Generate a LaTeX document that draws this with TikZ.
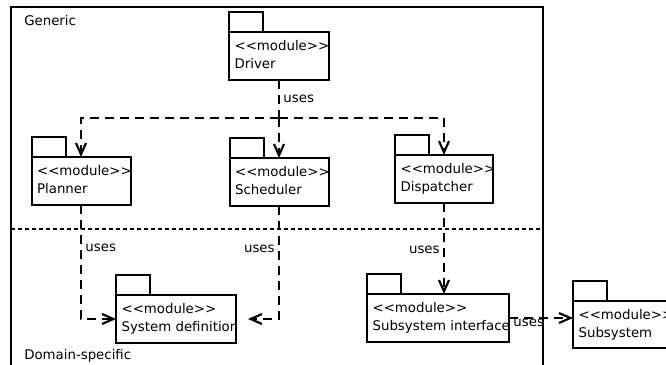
\documentclass[tikz,border=0pt]{standalone}
\usepackage{fontspec}
\setmainfont{DejaVu Sans}
\usetikzlibrary{arrows.meta}

\newcommand{\px}{0.75pt}

\tikzset{
  pkgline/.style={draw=black, line width=1.5pt},
  pkgbody/.style={pkgline, fill=white, anchor=north west, inner sep=0pt, outer sep=0pt},
  pkgtext/.style={anchor=north west, align=left, inner xsep=4pt, inner ysep=5.9pt,
                  font=\fontsize{10}{13.5}\selectfont},
  dep/.style={draw=black, line width=1.6pt, dash pattern=on 6.75pt off 4.5pt,
              -{Straight Barb[length=8.5pt,width=7.5pt]}},
  depline/.style={draw=black, line width=1.6pt, dash pattern=on 6.75pt off 4.5pt},
  usesLabel/.style={font=\fontsize{10}{12}\selectfont, inner sep=2.5pt},
  areaLabel/.style={font=\fontsize{10}{12}\selectfont, anchor=base west, inner sep=0pt}
}

% package: name, north west corner of the body, width, height, module name
\newcommand{\modpkg}[5]{%
  \node[pkgbody, minimum width=#3*\px, minimum height=#4*\px] (#1) at (#2) {};
  \begin{scope}
    \clip (#1.north west) rectangle (#1.south east);
    \node[pkgtext] (#1txt) at (#1.north west) {<{}<module>{}>\\#5};
  \end{scope}
  \draw[pkgline] (#1.north west) rectangle ++(34,-20);
}

\begin{document}
\begin{tikzpicture}[x=\px, y=-\px]
\useasboundingbox (0,0) rectangle (666,364);
\clip (0,0) rectangle (666,364);

% ------------------------------------------------------------
% layers: generic part above, domain-specific part below
% ------------------------------------------------------------
\draw[pkgline] (11,7) rectangle (543,380);
\draw[line width=1.5pt, dash pattern=on 3pt off 2.25pt] (11,229) -- (543,229);
\node[areaLabel] (generic) at (24,25) {Generic};
\node[areaLabel] (domain) at (24,359) {Domain-specific};

% ------------------------------------------------------------
% modules
% ------------------------------------------------------------
\modpkg{drv}{229,32}{100}{48}{Driver}
\modpkg{plan}{31.5,157}{99}{48}{Planner}
\modpkg{sched}{229.5,158}{99}{48}{Scheduler}
\modpkg{disp}{395,155}{98}{48}{Dispatcher}
\modpkg{sysdef}{116,295}{120}{48}{System definition}
\modpkg{subint}{367,294}{142}{48}{Subsystem interface}
\modpkg{subsys}{573,301}{100}{47}{Subsystem}

% ------------------------------------------------------------
% dependencies
% ------------------------------------------------------------
\path (drv.south) ++(0,38) coordinate (fork);
\draw[depline] (drv.south) -- (fork)
  node[usesLabel, midway, right] {uses};
\draw[dep] (fork) -| (plan.north);
\draw[dep] (fork) -- (sched.north);
\draw[dep] (fork) -| (disp.north);

\draw[dep] (plan.south) |- (sysdef.west)
  node[usesLabel, pos=0.19, right] {uses};
\draw[dep] (sched.south) |- ([xshift=9pt]sysdef.east)
  node[usesLabel, pos=0.19, left] {uses};
\draw[dep] (disp.south) -- (disp.south |- subint.north)
  node[usesLabel, pos=0.52, left] {uses};
\draw[dep] (subint.east) -- (subint.east -| subsys.west)
  node[usesLabel, at start, anchor=west, yshift=-3.75pt] {uses};

\end{tikzpicture}
\end{document}
